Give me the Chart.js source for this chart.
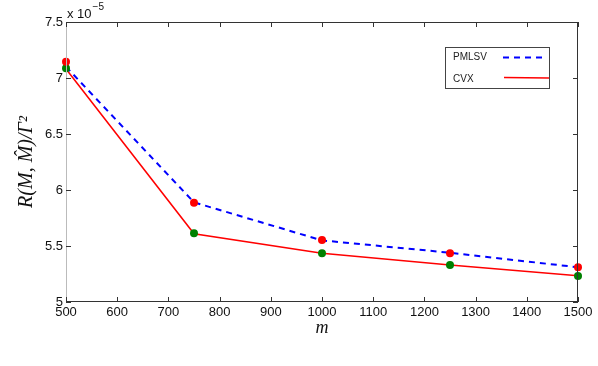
<!DOCTYPE html>
<html>
<head>
<meta charset="utf-8">
<script src="https://cdn.jsdelivr.net/npm/chart.js@4/dist/chart.umd.min.js"></script>
<style>
  html, body { margin: 0; padding: 0; background: #fff; }
  #wrap { width: 598px; height: 366px; }
</style>
</head>
<body>
<div id="wrap"><canvas id="chart"></canvas></div>
<script>
// ── Data (values in units of 1e-5) ──
const mValues   = [500, 750, 1000, 1250, 1500]
const pmlsvLine = [7.10, 5.89, 5.55, 5.44, 5.31]
const cvxLine   = [7.08, 5.61, 5.435, 5.33, 5.235]
const pmlsvDots = [7.146, 5.887, 5.554, 5.435, 5.31]
const cvxDots   = [7.087, 5.613, 5.435, 5.33, 5.232]
const xTicks    = [500, 600, 700, 800, 900, 1000, 1100, 1200, 1300, 1400, 1500]
const yTicks    = [5, 5.5, 6, 6.5, 7, 7.5]
const seriesNames = ['PMLSV', 'CVX']

const toXY = ys => mValues.map((x, i) => ({ x, y: ys[i] }))

const FONT = "'Liberation Sans', Arial, sans-serif"
const SERIF = "'Liberation Serif', 'DejaVu Serif', serif"

// ── Frame, inward ticks, exponent and legend (MATLAB look) ──
const matlabFrame = {
  id: 'matlabFrame',
  afterDatasetsDraw(chart) {
    const { ctx, chartArea: a, scales } = chart
    const xs = scales.x, ys = scales.y
    ctx.save()
    ctx.lineWidth = 1
    ctx.strokeStyle = '#333'
    ctx.beginPath()
    ctx.moveTo(a.left, a.top + 0.5); ctx.lineTo(a.right, a.top + 0.5)
    ctx.moveTo(a.right - 0.5, a.top); ctx.lineTo(a.right - 0.5, a.bottom)
    ctx.moveTo(a.left, a.bottom - 0.5); ctx.lineTo(a.right, a.bottom - 0.5)
    ctx.stroke()
    ctx.strokeStyle = '#bbb'
    ctx.beginPath()
    ctx.moveTo(a.left + 0.5, a.top); ctx.lineTo(a.left + 0.5, a.bottom)
    ctx.stroke()

    ctx.strokeStyle = '#333'
    ctx.beginPath()
    const t = 5
    xTicks.forEach(v => {
      const px = Math.round(xs.getPixelForValue(v)) + 0.5
      ctx.moveTo(px, a.bottom); ctx.lineTo(px, a.bottom - t)
      ctx.moveTo(px, a.top); ctx.lineTo(px, a.top + t)
    })
    yTicks.forEach(v => {
      const py = Math.round(ys.getPixelForValue(v)) + 0.5
      ctx.moveTo(a.left, py); ctx.lineTo(a.left + t, py)
      ctx.moveTo(a.right, py); ctx.lineTo(a.right - t, py)
    })
    ctx.stroke()

    // exponent label
    ctx.fillStyle = '#111'
    ctx.textBaseline = 'alphabetic'
    ctx.textAlign = 'left'
    ctx.font = '13px ' + FONT
    ctx.fillText('x 10', a.left + 1, 18)
    const w = ctx.measureText('x 10').width
    ctx.font = '10px ' + FONT
    ctx.fillText('\u22125', a.left + 2 + w, 10)

    // legend box
    const lx = 445, ly = 47, lw = 104, lh = 41
    ctx.fillStyle = '#fff'
    ctx.fillRect(lx, ly, lw, lh)
    ctx.strokeStyle = '#444'
    ctx.strokeRect(lx + 0.5, ly + 0.5, lw, lh)
    ctx.font = '10px ' + FONT
    ctx.fillStyle = '#222'
    ctx.textBaseline = 'middle'
    ctx.fillText(seriesNames[0], 453, 57)
    ctx.fillText(seriesNames[1], 453, 79)
    ctx.lineWidth = 2
    ctx.strokeStyle = '#0000ff'
    ctx.setLineDash([6, 5])
    ctx.beginPath(); ctx.moveTo(503, 57.5); ctx.lineTo(547, 57.5); ctx.stroke()
    ctx.setLineDash([])
    ctx.strokeStyle = '#ff0000'
    ctx.lineWidth = 1.6
    ctx.beginPath(); ctx.moveTo(504, 77.5); ctx.lineTo(549, 78); ctx.stroke()
    ctx.restore()
  }
}

new Chart(document.getElementById('chart'), {
  type: 'line',
  data: {
    datasets: [
      {
        label: seriesNames[0] + ' points',
        data: toXY(pmlsvDots),
        showLine: false,
        pointRadius: 4,
        pointBackgroundColor: '#ff0000',
        pointBorderWidth: 0,
        clip: false,
        order: 0,
      },
      {
        label: seriesNames[1] + ' points',
        data: toXY(cvxDots),
        showLine: false,
        pointRadius: 4,
        pointBackgroundColor: '#008000',
        pointBorderWidth: 0,
        clip: false,
        order: 0,
      },
      {
        label: seriesNames[0],
        data: toXY(pmlsvLine),
        borderColor: '#0000ff',
        borderWidth: 2,
        borderDash: [6, 5],
        pointRadius: 0,
        tension: 0,
        order: 1,
      },
      {
        label: seriesNames[1],
        data: toXY(cvxLine),
        borderColor: '#ff0000',
        borderWidth: 1.6,
        pointRadius: 0,
        tension: 0,
        order: 1,
      },
    ]
  },
  options: {
    responsive: true,
    maintainAspectRatio: false,
    animation: false,
    layout: { padding: { top: 22, right: 20, left: 0, bottom: 0 } },
    plugins: { legend: { display: false }, tooltip: { enabled: false } },
    scales: {
      x: {
        type: 'linear',
        min: 500, max: 1500,
        afterBuildTicks: s => { s.ticks = xTicks.map(value => ({ value })) },
        afterFit: s => { s.height = 64 },
        grid: { display: false, drawTicks: false },
        border: { display: false },
        ticks: {
          color: '#111', font: { family: FONT, size: 13 }, padding: 3,
          maxRotation: 0, autoSkip: false, callback: v => String(v)
        },
        title: {
          display: true, text: 'm', color: '#111',
          font: { family: SERIF, size: 18, style: 'italic' },
          padding: { top: 0, bottom: 27 }
        }
      },
      y: {
        min: 5, max: 7.5,
        afterBuildTicks: s => { s.ticks = yTicks.map(value => ({ value })) },
        afterFit: s => { s.width = 66 },
        grid: { display: false, drawTicks: false },
        border: { display: false },
        ticks: {
          color: '#111', font: { family: FONT, size: 13 }, padding: 3,
          callback: v => String(v)
        },
        title: {
          display: true, text: 'R(M, M\u0302)/\u0393\u00b2', color: '#111',
          font: { family: SERIF, size: 20, style: 'italic' },
          padding: { top: 15, bottom: 0 }
        }
      }
    }
  },
  plugins: [matlabFrame]
})
</script>
</body>
</html>
